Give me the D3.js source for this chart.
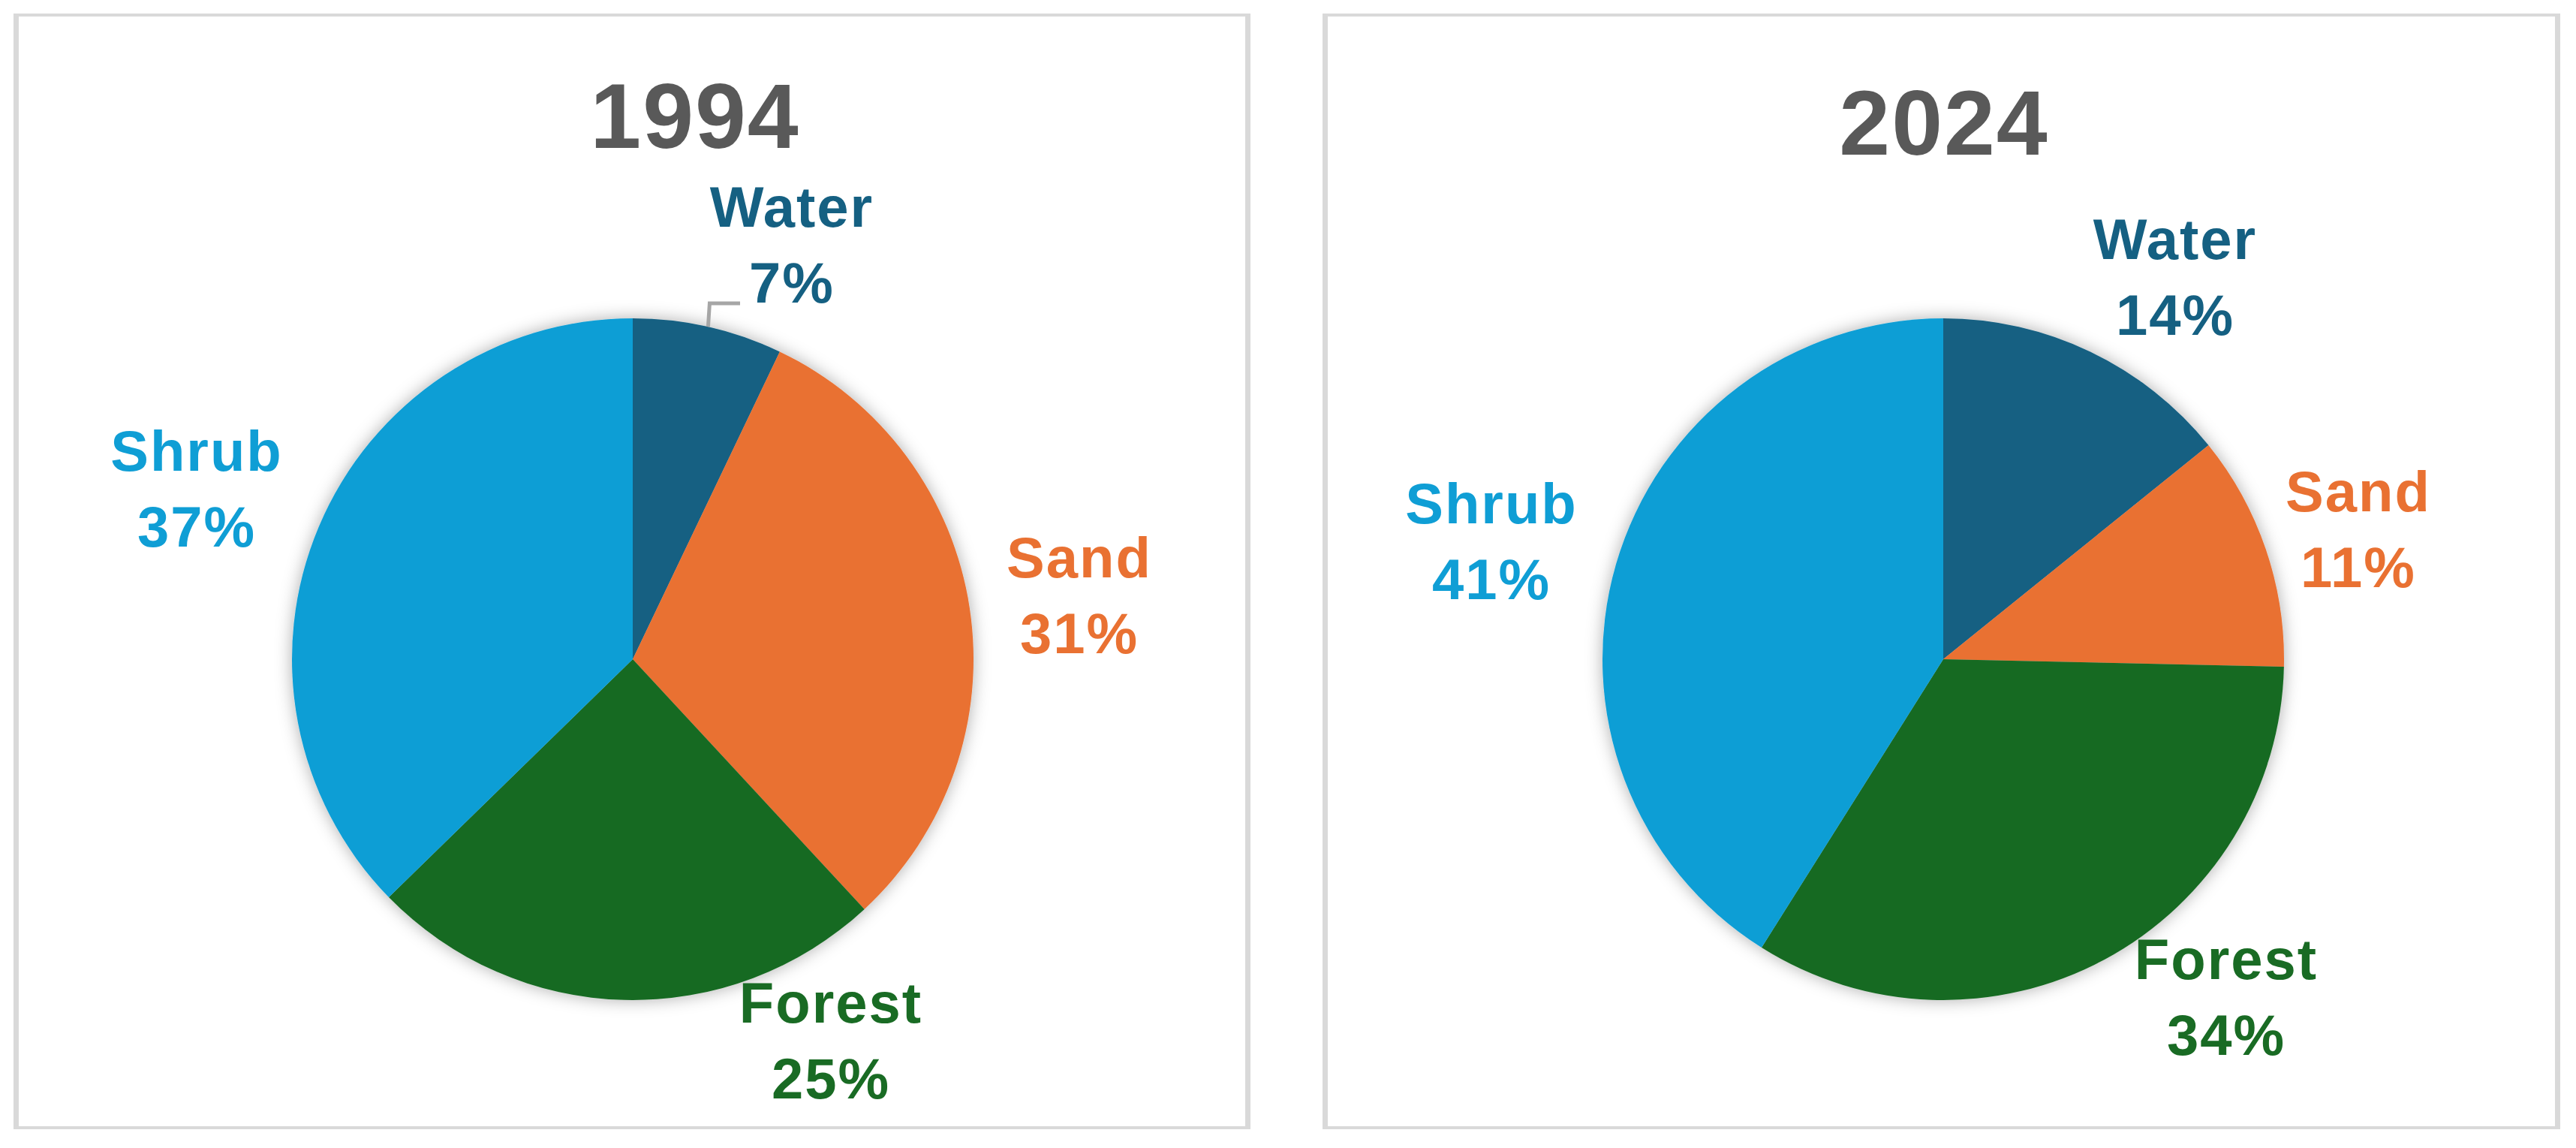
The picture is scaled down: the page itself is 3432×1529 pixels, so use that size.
<!DOCTYPE html>
<html>
<head>
<meta charset="utf-8">
<script src="https://cdn.jsdelivr.net/npm/d3@7"></script>
<style>
  html, body { margin: 0; padding: 0; background: #ffffff; }
  svg { display: block; }
  text { font-family: "Liberation Sans", Arial, sans-serif; font-weight: bold; }
</style>
</head>
<body>
<svg id="chart" width="3432" height="1529"></svg>
<script>
// ---------------- data ----------------
const categories = ["Water", "Sand", "Forest", "Shrub"];
const years = ["1994", "2024"];
const values1994 = [7.1, 31.0, 24.6, 37.3];
const values2024 = [14.2, 11.15, 33.6, 41.05];

// ---------------- style / layout ----------------
const palette = ["#156082", "#E97132", "#196B24", "#0F9ED5"];
const panels = [
  { x0: 18, x1: 1666, y0: 18, y1: 1504, cx: 843, cy: 878, titleX: 925, titleY: 197,
    labels: [[211, -576], [594, -109], [263, 484], [-582, -251]],
    leader: { index: 0, elbowY: -474, endX: 143 } },
  { x0: 1762, x1: 3411, y0: 18, y1: 1504, cx: 2589, cy: 878, titleX: 2589, titleY: 206,
    labels: [[308, -533], [552, -197], [376, 426], [-603, -181]],
    leader: null }
];
const radius = 454;
const lineGap = 101;

const svg = d3.select("#chart");
const defs = svg.append("defs");
const f = defs.append("filter").attr("id", "pieShadow")
  .attr("x", "-20%").attr("y", "-20%").attr("width", "140%").attr("height", "140%");
f.append("feDropShadow").attr("dx", 0).attr("dy", 0).attr("stdDeviation", 11)
  .attr("flood-color", "#000").attr("flood-opacity", 0.32);

const color = d3.scaleOrdinal().domain(categories).range(palette);
const pie = d3.pie().sort(null).value(d => d.value);
const arc = d3.arc().innerRadius(0).outerRadius(radius);
const pct = d3.format(".0%");

const series = [values1994, values2024];

series.forEach((vals, i) => {
  const p = panels[i];
  const data = categories.map((c, k) => ({ cat: c, value: vals[k] }));
  const total = d3.sum(vals);
  const arcs = pie(data);

  // panel border
  const b = svg.append("g").attr("fill", "#d9d9d9");
  b.append("rect").attr("x", p.x0).attr("y", p.y0).attr("width", p.x1 - p.x0).attr("height", 4);
  b.append("rect").attr("x", p.x0).attr("y", p.y1 - 4).attr("width", p.x1 - p.x0).attr("height", 4);
  b.append("rect").attr("x", p.x0).attr("y", p.y0).attr("width", 7).attr("height", p.y1 - p.y0);
  b.append("rect").attr("x", p.x1 - 7).attr("y", p.y0).attr("width", 7).attr("height", p.y1 - p.y0);

  // title
  svg.append("text").attr("x", p.titleX + 1).attr("y", p.titleY)
    .attr("text-anchor", "middle").attr("font-size", 122).attr("letter-spacing", 2)
    .attr("fill", "#595959")
    .text(years[i]);

  const g = svg.append("g").attr("transform", `translate(${p.cx},${p.cy})`);

  // pie slices with soft shadow
  g.append("g").attr("filter", "url(#pieShadow)")
    .selectAll("path").data(arcs).enter().append("path")
    .attr("d", arc)
    .attr("fill", d => color(d.data.cat));

  // leader line
  if (p.leader) {
    const a = arcs[p.leader.index];
    const mid = (a.startAngle + a.endAngle) / 2;
    const sx = radius * Math.sin(mid), sy = -radius * Math.cos(mid);
    g.append("path")
      .attr("d", d3.line()([[sx, sy], [sx + 2, p.leader.elbowY], [p.leader.endX, p.leader.elbowY]]))
      .attr("fill", "none").attr("stroke", "#a6a6a6").attr("stroke-width", 5);
  }

  // labels
  arcs.forEach((a, k) => {
    const [lx, ly] = p.labels[k];
    const t = g.append("text").attr("text-anchor", "middle").attr("font-size", 76)
      .attr("letter-spacing", 2).attr("fill", color(a.data.cat));
    t.append("tspan").attr("x", lx + 1).attr("y", ly).text(a.data.cat);
    t.append("tspan").attr("x", lx + 1).attr("y", ly + lineGap).text(pct(a.data.value / total));
  });
});
</script>
</body>
</html>
